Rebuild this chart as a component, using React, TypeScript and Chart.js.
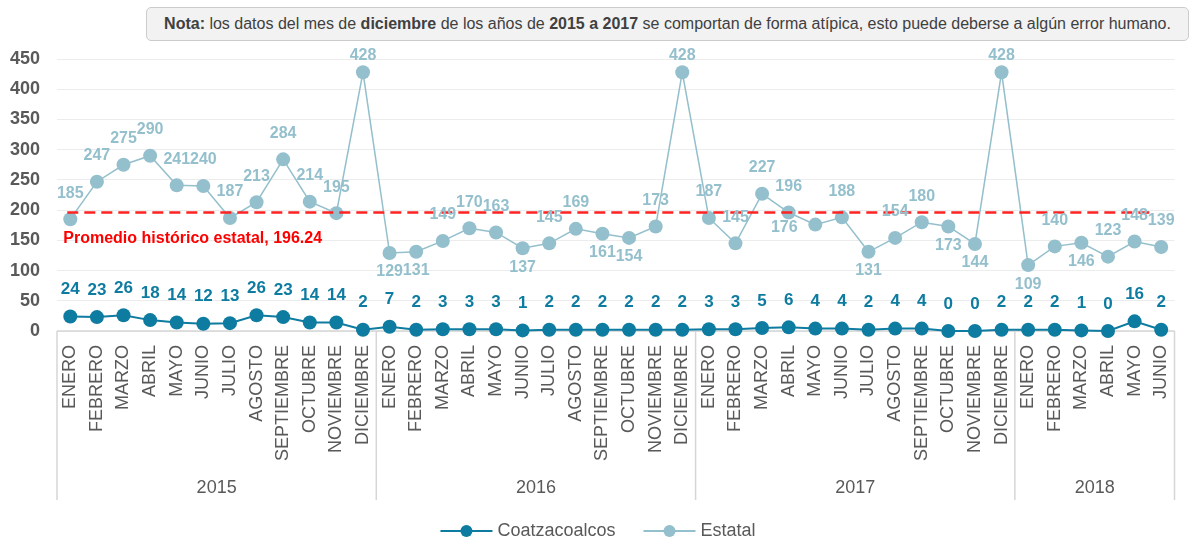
import React, { useEffect, useRef } from 'react';
import { Chart, registerables } from 'chart.js';

Chart.register(...registerables);

const FONT = '"Liberation Sans", Arial, Helvetica, sans-serif';

const years = ['2015', '2016', '2017', '2018'];
const monthNames = ['ENERO', 'FEBRERO', 'MARZO', 'ABRIL', 'MAYO', 'JUNIO', 'JULIO', 'AGOSTO', 'SEPTIEMBRE', 'OCTUBRE', 'NOVIEMBRE', 'DICIEMBRE'];
const monthsPerYear = [12, 12, 12, 6];

const coatzacoalcos = [
  24, 23, 26, 18, 14, 12, 13, 26, 23, 14, 14, 2,
  7, 2, 3, 3, 3, 1, 2, 2, 2, 2, 2, 2,
  3, 3, 5, 6, 4, 4, 2, 4, 4, 0, 0, 2,
  2, 2, 1, 0, 16, 2,
];
const estatal = [
  185, 247, 275, 290, 241, 240, 187, 213, 284, 214, 195, 428,
  129, 131, 149, 170, 163, 137, 145, 169, 161, 154, 173, 428,
  187, 145, 227, 196, 176, 188, 131, 154, 180, 173, 144, 428,
  109, 140, 146, 123, 148, 139,
];
const promedio = 196.24;
const promedioLabel = 'Promedio histórico estatal, 196.24';
const yMax = 450;
const yStep = 50;

// label placement for Estatal data labels: a = above, b = below, l = left
const estatalLabelPos = [
  'a', 'a', 'a', 'a', 'a', 'a', 'a', 'a', 'a', 'a', 'a', 'a',
  'b', 'b', 'a', 'a', 'a', 'b', 'a', 'a', 'b', 'b', 'a', 'a',
  'a', 'a', 'a', 'a', 'l', 'a', 'b', 'a', 'a', 'b', 'b', 'a',
  'b', 'a', 'b', 'a', 'a', 'a',
];

const COATZ = '#0e7ba0';
const ESTATAL = '#94bfcc';
const AXIS_TXT = '#595959';
const DIVIDER = '#d6d6d6';

const labels: string[] = [];
monthsPerYear.forEach((n) => {
  for (let i = 0; i < n; i++) labels.push(monthNames[i]);
});

const customPlugin = {
  id: 'customDecor',
  beforeDatasetsDraw(chart: any) {
    const { ctx, chartArea } = chart;
    const xs = chart.scales.x;
    ctx.save();
    ctx.strokeStyle = DIVIDER;
    ctx.lineWidth = 1.5;
    ctx.beginPath();
    ctx.moveTo(chartArea.left, chartArea.bottom);
    ctx.lineTo(chartArea.right, chartArea.bottom);
    ctx.stroke();
    const bounds: number[] = [chartArea.left];
    let idx = 0;
    monthsPerYear.forEach((n, g) => {
      idx += n;
      if (g < monthsPerYear.length - 1) {
        bounds.push((xs.getPixelForValue(idx - 1) + xs.getPixelForValue(idx)) / 2);
      }
    });
    bounds.push(chartArea.right);
    bounds.forEach((bx) => {
      ctx.beginPath();
      ctx.moveTo(bx, chartArea.bottom);
      ctx.lineTo(bx, chartArea.bottom + 169);
      ctx.stroke();
    });
    ctx.fillStyle = AXIS_TXT;
    ctx.font = `18px ${FONT}`;
    ctx.textAlign = 'center';
    ctx.textBaseline = 'middle';
    let start = 0;
    monthsPerYear.forEach((n, g) => {
      const cx = (xs.getPixelForValue(start) + xs.getPixelForValue(start + n - 1)) / 2;
      ctx.fillText(years[g], cx, chartArea.bottom + 157);
      start += n;
    });
    ctx.restore();
  },
  afterDatasetsDraw(chart: any) {
    const { ctx, chartArea } = chart;
    const xs = chart.scales.x;
    const ys = chart.scales.y;
    ctx.save();
    const yp = ys.getPixelForValue(promedio);
    ctx.strokeStyle = '#ff2222';
    ctx.lineWidth = 2.5;
    ctx.setLineDash([11, 6]);
    ctx.beginPath();
    ctx.moveTo(xs.getPixelForValue(0) - 3, yp);
    ctx.lineTo(xs.getPixelForValue(labels.length - 1) - 6, yp);
    ctx.stroke();
    ctx.setLineDash([]);
    ctx.fillStyle = '#ff0000';
    ctx.font = `bold 16px ${FONT}`;
    ctx.textAlign = 'left';
    ctx.textBaseline = 'middle';
    ctx.fillText(promedioLabel, xs.getPixelForValue(0) - 7, yp + 26);

    const metaC = chart.getDatasetMeta(0);
    ctx.font = `bold 17px ${FONT}`;
    ctx.fillStyle = COATZ;
    ctx.textAlign = 'center';
    metaC.data.forEach((pt: any, i: number) => {
      ctx.fillText(String(coatzacoalcos[i]), pt.x, pt.y - 27);
    });
    const metaE = chart.getDatasetMeta(1);
    ctx.font = `bold 16px ${FONT}`;
    ctx.fillStyle = ESTATAL;
    metaE.data.forEach((pt: any, i: number) => {
      const p = estatalLabelPos[i];
      let lx = pt.x;
      let ly = Math.max(pt.y - 26, chartArea.top - 3);
      if (p === 'b') ly = pt.y + 19;
      if (p === 'l') { lx = pt.x - 31; ly = pt.y + 3; }
      ctx.fillText(String(estatal[i]), lx, ly);
    });

    const ly = chartArea.bottom + 200;
    ctx.font = `18px ${FONT}`;
    const items = [
      { name: 'Coatzacoalcos', color: COATZ },
      { name: 'Estatal', color: ESTATAL },
    ];
    const lineW = 52;
    const gapTxt = 5;
    const gapItem = 28;
    const widths = items.map((it) => lineW + gapTxt + ctx.measureText(it.name).width);
    const total = widths.reduce((a, b) => a + b, 0) + gapItem;
    let lx0 = chart.width / 2 - total / 2 - 2;
    items.forEach((it, k) => {
      ctx.strokeStyle = it.color;
      ctx.lineWidth = 2;
      ctx.beginPath();
      ctx.moveTo(lx0, ly);
      ctx.lineTo(lx0 + lineW, ly);
      ctx.stroke();
      ctx.fillStyle = it.color;
      ctx.beginPath();
      ctx.arc(lx0 + lineW / 2, ly, 6, 0, Math.PI * 2);
      ctx.fill();
      ctx.fillStyle = AXIS_TXT;
      ctx.textAlign = 'left';
      ctx.fillText(it.name, lx0 + lineW + gapTxt, ly);
      lx0 += widths[k] + gapItem;
    });
    ctx.restore();
  },
};

export default function App() {
  const ref = useRef<HTMLCanvasElement>(null);
  useEffect(() => {
    Chart.defaults.font.family = FONT;
    const chart = new Chart(ref.current as HTMLCanvasElement, {
      type: 'line',
      data: {
        labels,
        datasets: [
          {
            label: 'Coatzacoalcos',
            data: coatzacoalcos,
            borderColor: COATZ,
            backgroundColor: COATZ,
            pointBackgroundColor: COATZ,
            pointBorderColor: COATZ,
            pointRadius: 7,
            pointBorderWidth: 0,
            borderWidth: 2,
            clip: false as any,
          },
          {
            label: 'Estatal',
            data: estatal,
            borderColor: ESTATAL,
            backgroundColor: ESTATAL,
            pointBackgroundColor: ESTATAL,
            pointBorderColor: ESTATAL,
            pointRadius: 7,
            pointBorderWidth: 0,
            borderWidth: 1.5,
            clip: false as any,
          },
        ],
      },
      options: {
        responsive: false,
        animation: false,
        devicePixelRatio: 1,
        layout: { padding: { top: 59, right: 25.5, left: 0, bottom: 0 } },
        plugins: {
          legend: { display: false },
          tooltip: { enabled: false },
        },
        scales: {
          x: {
            type: 'category',
            offset: true,
            grid: { display: false, drawTicks: false },
            border: { display: false },
            ticks: {
              minRotation: 90,
              maxRotation: 90,
              autoSkip: false,
              padding: 14,
              color: AXIS_TXT,
              font: { size: 18, family: FONT },
            },
            afterFit: (s: any) => { s.height = 209; },
          },
          y: {
            min: 0,
            max: yMax,
            ticks: {
              stepSize: yStep,
              padding: 17,
              color: AXIS_TXT,
              font: { size: 18, weight: 'bold', family: FONT },
            },
            grid: { color: '#ececec', drawTicks: false, lineWidth: 1 },
            border: { display: false },
            afterFit: (s: any) => { s.width = 57; },
          },
        },
      },
      plugins: [customPlugin],
    } as any);
    return () => chart.destroy();
  }, []);

  return (
    <div style={{ position: 'fixed', left: 0, top: 0, width: 1200, height: 540, background: '#ffffff' }}>
      <canvas ref={ref} width={1200} height={540} style={{ position: 'absolute', left: 0, top: 0 }} />
      <div
        style={{
          position: 'absolute',
          left: 146,
          top: 7,
          width: 1043,
          height: 34,
          boxSizing: 'border-box',
          background: '#f2f2f2',
          border: '1px solid #cccccc',
          borderRadius: 5,
          fontFamily: FONT,
          fontSize: 16,
          color: '#404040',
          display: 'flex',
          alignItems: 'center',
          justifyContent: 'center',
          whiteSpace: 'nowrap',
        }}
      >
        <span>
          <b>Nota:</b> los datos del mes de <b>diciembre</b> de los años de <b>2015 a 2017</b> se comportan de forma atípica, esto puede deberse a algún error humano.
        </span>
      </div>
    </div>
  );
}
